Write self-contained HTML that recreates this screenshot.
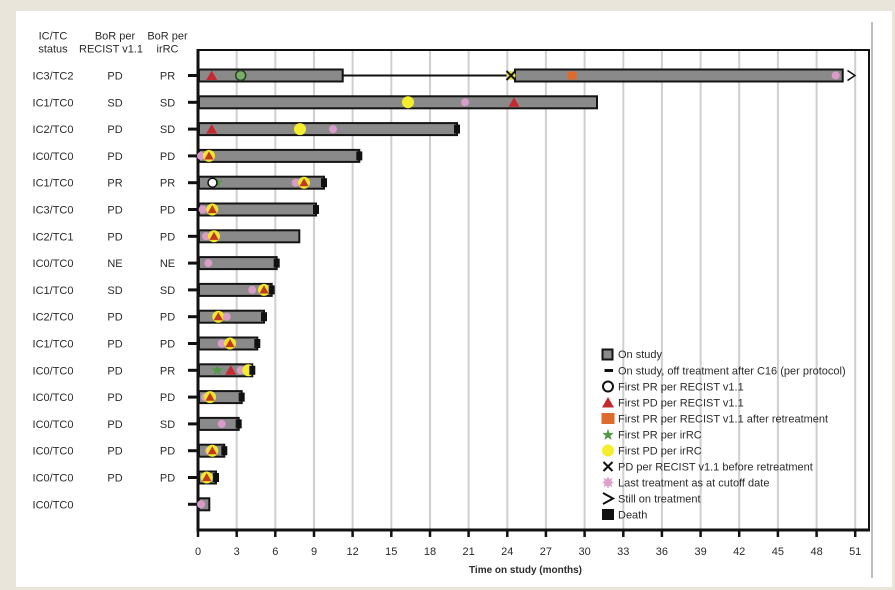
<!DOCTYPE html>
<html><head><meta charset="utf-8">
<style>
html,body{margin:0;padding:0;background:#e9e5da;}
svg{display:block;}
text{font-family:"Liberation Sans",Arial,sans-serif;font-size:11px;fill:#2a2a2a;}
</style></head>
<body>
<svg width="895" height="590" viewBox="0 0 895 590" xmlns="http://www.w3.org/2000/svg">
<defs>
  <g id="tri"><polygon points="0,-5 -5.5,4.5 5.5,4.5" fill="#c42a30"/></g>
  <g id="ty"><circle r="6" fill="#f2e62e"/><polygon points="0,-4.5 -4.6,3.6 4.6,3.6" fill="#c23a1c"/></g>
  <g id="pk"><circle r="4" fill="#d99cc9"/></g>
  <g id="yel"><circle r="6" fill="#f4ee2c"/></g>
  <g id="dth"><rect x="-3" y="-4.5" width="6" height="9" fill="#111"/></g>
  <g id="star"><polygon points="0,-6 1.47,-2.02 5.71,-1.85 2.38,0.77 3.53,4.85 0,2.5 -3.53,4.85 -2.38,0.77 -5.71,-1.85 -1.47,-2.02" fill="#4f9a43"/></g>
</defs>

<rect x="0" y="0" width="895" height="590" fill="#e9e5da"/>
<rect x="16" y="11" width="876" height="576" fill="#ffffff"/>
<line x1="872" y1="22" x2="872" y2="578" stroke="#a8a8a8" stroke-width="1.5"/>

<!-- header -->
<text x="53" y="39.5" text-anchor="middle">IC/TC</text>
<text x="53" y="52.5" text-anchor="middle">status</text>
<text x="115" y="39.5" text-anchor="middle">BoR per</text>
<text x="111" y="52.5" text-anchor="middle">RECIST v1.1</text>
<text x="167.5" y="39.5" text-anchor="middle">BoR per</text>
<text x="167.5" y="52.5" text-anchor="middle">irRC</text>

<!-- grid lines -->
<g stroke="#cfcfcf" stroke-width="2">
<line x1="236.7" y1="51" x2="236.7" y2="529"/>
<line x1="275.3" y1="51" x2="275.3" y2="529"/>
<line x1="314.0" y1="51" x2="314.0" y2="529"/>
<line x1="352.6" y1="51" x2="352.6" y2="529"/>
<line x1="391.3" y1="51" x2="391.3" y2="529"/>
<line x1="430.0" y1="51" x2="430.0" y2="529"/>
<line x1="468.6" y1="51" x2="468.6" y2="529"/>
<line x1="507.3" y1="51" x2="507.3" y2="529"/>
<line x1="545.9" y1="51" x2="545.9" y2="529"/>
<line x1="584.6" y1="51" x2="584.6" y2="529"/>
<line x1="623.3" y1="51" x2="623.3" y2="529"/>
<line x1="661.9" y1="51" x2="661.9" y2="529"/>
<line x1="700.6" y1="51" x2="700.6" y2="529"/>
<line x1="739.2" y1="51" x2="739.2" y2="529"/>
<line x1="777.9" y1="51" x2="777.9" y2="529"/>
<line x1="816.6" y1="51" x2="816.6" y2="529"/>
<line x1="855.2" y1="51" x2="855.2" y2="529"/>
</g>

<!-- frame -->
<line x1="198" y1="50" x2="869" y2="50" stroke="#111" stroke-width="2"/>
<line x1="869" y1="49" x2="869" y2="531" stroke="#111" stroke-width="2"/>
<line x1="198" y1="49" x2="198" y2="531.5" stroke="#111" stroke-width="3"/>
<line x1="196.5" y1="530" x2="870" y2="530" stroke="#111" stroke-width="3"/>

<!-- ticks -->
<g stroke="#111" stroke-width="2.5">
<line x1="198" y1="530" x2="198" y2="537"/>
<line x1="236.7" y1="530" x2="236.7" y2="537"/>
<line x1="275.3" y1="530" x2="275.3" y2="537"/>
<line x1="314.0" y1="530" x2="314.0" y2="537"/>
<line x1="352.6" y1="530" x2="352.6" y2="537"/>
<line x1="391.3" y1="530" x2="391.3" y2="537"/>
<line x1="430.0" y1="530" x2="430.0" y2="537"/>
<line x1="468.6" y1="530" x2="468.6" y2="537"/>
<line x1="507.3" y1="530" x2="507.3" y2="537"/>
<line x1="545.9" y1="530" x2="545.9" y2="537"/>
<line x1="584.6" y1="530" x2="584.6" y2="537"/>
<line x1="623.3" y1="530" x2="623.3" y2="537"/>
<line x1="661.9" y1="530" x2="661.9" y2="537"/>
<line x1="700.6" y1="530" x2="700.6" y2="537"/>
<line x1="739.2" y1="530" x2="739.2" y2="537"/>
<line x1="777.9" y1="530" x2="777.9" y2="537"/>
<line x1="816.6" y1="530" x2="816.6" y2="537"/>
<line x1="855.2" y1="530" x2="855.2" y2="537"/>
</g>
<g text-anchor="middle">
<text x="198" y="555">0</text>
<text x="236.7" y="555">3</text>
<text x="275.3" y="555">6</text>
<text x="314.0" y="555">9</text>
<text x="352.6" y="555">12</text>
<text x="391.3" y="555">15</text>
<text x="430.0" y="555">18</text>
<text x="468.6" y="555">21</text>
<text x="507.3" y="555">24</text>
<text x="545.9" y="555">27</text>
<text x="584.6" y="555">30</text>
<text x="623.3" y="555">33</text>
<text x="661.9" y="555">36</text>
<text x="700.6" y="555">39</text>
<text x="739.2" y="555">42</text>
<text x="777.9" y="555">45</text>
<text x="816.6" y="555">48</text>
<text x="855.2" y="555">51</text>
</g>
<text x="469" y="573" style="font-size:10.5px;font-weight:bold" textLength="113" lengthAdjust="spacingAndGlyphs">Time on study (months)</text>

<!-- row labels -->
<g text-anchor="middle">
<text x="53" y="79.5">IC3/TC2</text><text x="115" y="79.5">PD</text><text x="167.5" y="79.5">PR</text>
<text x="53" y="106.3">IC1/TC0</text><text x="115" y="106.3">SD</text><text x="167.5" y="106.3">SD</text>
<text x="53" y="133.1">IC2/TC0</text><text x="115" y="133.1">PD</text><text x="167.5" y="133.1">SD</text>
<text x="53" y="159.9">IC0/TC0</text><text x="115" y="159.9">PD</text><text x="167.5" y="159.9">PD</text>
<text x="53" y="186.7">IC1/TC0</text><text x="115" y="186.7">PR</text><text x="167.5" y="186.7">PR</text>
<text x="53" y="213.5">IC3/TC0</text><text x="115" y="213.5">PD</text><text x="167.5" y="213.5">PD</text>
<text x="53" y="240.3">IC2/TC1</text><text x="115" y="240.3">PD</text><text x="167.5" y="240.3">PD</text>
<text x="53" y="267.1">IC0/TC0</text><text x="115" y="267.1">NE</text><text x="167.5" y="267.1">NE</text>
<text x="53" y="293.9">IC1/TC0</text><text x="115" y="293.9">SD</text><text x="167.5" y="293.9">SD</text>
<text x="53" y="320.7">IC2/TC0</text><text x="115" y="320.7">PD</text><text x="167.5" y="320.7">PD</text>
<text x="53" y="347.5">IC1/TC0</text><text x="115" y="347.5">PD</text><text x="167.5" y="347.5">PD</text>
<text x="53" y="374.3">IC0/TC0</text><text x="115" y="374.3">PD</text><text x="167.5" y="374.3">PR</text>
<text x="53" y="401.1">IC0/TC0</text><text x="115" y="401.1">PD</text><text x="167.5" y="401.1">PD</text>
<text x="53" y="427.9">IC0/TC0</text><text x="115" y="427.9">PD</text><text x="167.5" y="427.9">SD</text>
<text x="53" y="454.7">IC0/TC0</text><text x="115" y="454.7">PD</text><text x="167.5" y="454.7">PD</text>
<text x="53" y="481.5">IC0/TC0</text><text x="115" y="481.5">PD</text><text x="167.5" y="481.5">PD</text>
<text x="53" y="508.3">IC0/TC0</text>
</g>

<!-- left stubs -->
<g stroke="#111" stroke-width="3">
<line x1="188" y1="75.5" x2="198" y2="75.5"/>
<line x1="188" y1="102.3" x2="198" y2="102.3"/>
<line x1="188" y1="129.1" x2="198" y2="129.1"/>
<line x1="188" y1="155.9" x2="198" y2="155.9"/>
<line x1="188" y1="182.7" x2="198" y2="182.7"/>
<line x1="188" y1="209.5" x2="198" y2="209.5"/>
<line x1="188" y1="236.3" x2="198" y2="236.3"/>
<line x1="188" y1="263.1" x2="198" y2="263.1"/>
<line x1="188" y1="289.9" x2="198" y2="289.9"/>
<line x1="188" y1="316.7" x2="198" y2="316.7"/>
<line x1="188" y1="343.5" x2="198" y2="343.5"/>
<line x1="188" y1="370.3" x2="198" y2="370.3"/>
<line x1="188" y1="397.1" x2="198" y2="397.1"/>
<line x1="188" y1="423.9" x2="198" y2="423.9"/>
<line x1="188" y1="450.7" x2="198" y2="450.7"/>
<line x1="188" y1="477.5" x2="198" y2="477.5"/>
<line x1="188" y1="504.3" x2="198" y2="504.3"/>
</g>

<!-- bars -->
<g fill="#8a8a8a" stroke="#141414" stroke-width="2">
<rect x="199" y="69.5" width="143.7" height="12"/>
<rect x="515" y="69.5" width="327.7" height="12"/>
<rect x="199" y="96.3" width="398" height="12"/>
<rect x="199" y="123.1" width="258" height="12"/>
<rect x="199" y="149.9" width="160.3" height="12"/>
<rect x="199" y="176.7" width="125" height="12"/>
<rect x="199" y="203.5" width="117" height="12"/>
<rect x="199" y="230.3" width="100.3" height="12"/>
<rect x="199" y="257.1" width="77.7" height="12"/>
<rect x="199" y="283.9" width="72.7" height="12"/>
<rect x="199" y="310.7" width="65" height="12"/>
<rect x="199" y="337.5" width="58.3" height="12"/>
<rect x="199" y="364.3" width="53.3" height="12"/>
<rect x="199" y="391.1" width="42.7" height="12"/>
<rect x="199" y="417.9" width="39.7" height="12"/>
<rect x="199" y="444.7" width="25.3" height="12"/>
<rect x="199" y="471.5" width="17" height="12"/>
<rect x="199" y="498.3" width="10.3" height="12"/>
</g>
<line x1="343" y1="75.5" x2="514" y2="75.5" stroke="#111" stroke-width="2"/>

<!-- row 1 markers -->
<use href="#tri" x="211.7" y="75.5"/>
<circle cx="240.7" cy="75.5" r="5" fill="#7aae68" stroke="#244424" stroke-width="1.5"/>
<circle cx="511" cy="75.5" r="4.5" fill="#e8e63a"/>
<path d="M506.5,71 L515.5,80 M515.5,71 L506.5,80" stroke="#111" stroke-width="2"/>
<rect x="568" y="71.5" width="8.5" height="8" fill="#de6a2c"/>
<use href="#pk" x="835.7" y="75.5"/>
<polyline points="847.5,70.5 855,75.5 847.5,80.5" fill="none" stroke="#111" stroke-width="1.5"/>

<!-- row 2 -->
<use href="#yel" x="408" y="102.3"/>
<use href="#pk" x="465" y="102.3"/>
<use href="#tri" x="514" y="102.3"/>

<!-- row 3 -->
<use href="#tri" x="211.7" y="129.1"/>
<use href="#yel" x="300" y="129.1"/>
<use href="#pk" x="333" y="129.1"/>
<use href="#dth" x="457" y="129.1"/>

<!-- row 4 -->
<use href="#pk" x="201" y="155.9"/>
<use href="#ty" x="209" y="155.9"/>
<use href="#dth" x="359.3" y="155.9"/>

<!-- row 5 -->
<use href="#star" x="217" y="182.7"/>
<circle cx="212.5" cy="182.7" r="4.5" fill="#fff" stroke="#111" stroke-width="1.5"/>
<use href="#pk" x="295.7" y="182.7"/>
<use href="#ty" x="304" y="182.7"/>
<use href="#dth" x="324" y="182.7"/>

<!-- row 6 -->
<use href="#pk" x="202.7" y="209.5"/>
<use href="#ty" x="212.3" y="209.5"/>
<use href="#dth" x="316" y="209.5"/>

<!-- row 7 -->
<use href="#pk" x="206" y="236.3"/>
<use href="#ty" x="214" y="236.3"/>

<!-- row 8 -->
<use href="#pk" x="208.3" y="263.1"/>
<use href="#dth" x="276.7" y="263.1"/>

<!-- row 9 -->
<use href="#pk" x="252.3" y="289.9"/>
<use href="#ty" x="264" y="289.9"/>
<use href="#dth" x="271.7" y="289.9"/>

<!-- row 10 -->
<use href="#ty" x="218.3" y="316.7"/>
<use href="#pk" x="226.7" y="316.7"/>
<use href="#dth" x="264" y="316.7"/>

<!-- row 11 -->
<use href="#pk" x="221.7" y="343.5"/>
<use href="#ty" x="230" y="343.5"/>
<use href="#dth" x="257.3" y="343.5"/>

<!-- row 12 -->
<use href="#star" x="217.3" y="370.3"/>
<use href="#tri" x="230.7" y="370.3"/>
<use href="#pk" x="240.7" y="370.3"/>
<use href="#yel" x="248.3" y="370.3"/>
<use href="#dth" x="252.3" y="370.3"/>

<!-- row 13 -->
<use href="#pk" x="205" y="397.1"/>
<use href="#ty" x="210" y="397.1"/>
<use href="#dth" x="241.7" y="397.1"/>

<!-- row 14 -->
<use href="#pk" x="221.7" y="423.9"/>
<use href="#dth" x="238.7" y="423.9"/>

<!-- row 15 -->
<use href="#pk" x="209" y="450.7"/>
<use href="#ty" x="212.3" y="450.7"/>
<use href="#dth" x="224.3" y="450.7"/>

<!-- row 16 -->
<use href="#ty" x="206.7" y="477.5"/>
<use href="#dth" x="216" y="477.5"/>

<!-- row 17 -->
<use href="#pk" x="201" y="504.3"/>

<!-- legend -->
<rect x="602.5" y="349.5" width="10" height="10" fill="#8a8a8a" stroke="#141414" stroke-width="2"/>
<text x="618" y="358">On study</text>
<line x1="604.5" y1="370.5" x2="613" y2="370.5" stroke="#111" stroke-width="3"/>
<text x="618" y="374.5">On study, off treatment after C16 (per protocol)</text>
<circle cx="608" cy="386.5" r="5" fill="#fff" stroke="#111" stroke-width="2"/>
<text x="618" y="390.5">First PR per RECIST v1.1</text>
<polygon points="608,397 602,407.5 614,407.5" fill="#c42a30"/>
<text x="618" y="406.5">First PD per RECIST v1.1</text>
<rect x="601.5" y="413" width="13" height="11" fill="#dd6a2e"/>
<text x="618" y="422.5">First PR per RECIST v1.1 after retreatment</text>
<use href="#star" x="608" y="435"/>
<text x="618" y="438.5">First PR per irRC</text>
<use href="#yel" x="608" y="450.5"/>
<text x="618" y="454.5">First PD per irRC</text>
<path d="M603.5,462 L612.5,471 M612.5,462 L603.5,471" stroke="#111" stroke-width="2"/>
<text x="618" y="470.5">PD per RECIST v1.1 before retreatment</text>
<circle cx="608" cy="482.5" r="4" fill="#dca2cc"/>
<path d="M608,477 V488 M602.5,482.5 H613.5 M604,478.5 L612,486.5 M612,478.5 L604,486.5" stroke="#dca2cc" stroke-width="1.3"/>
<text x="618" y="486.5">Last treatment as at cutoff date</text>
<polyline points="603,493 613,498.5 603,504" fill="none" stroke="#111" stroke-width="2"/>
<text x="618" y="502.5">Still on treatment</text>
<rect x="602" y="509" width="12" height="11" fill="#111"/>
<text x="618" y="518.5">Death</text>
</svg>
</body></html>
